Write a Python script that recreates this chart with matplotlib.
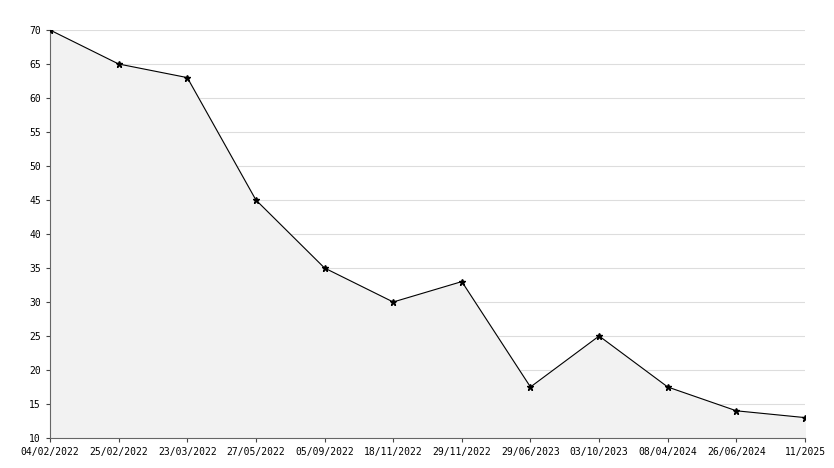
import matplotlib
matplotlib.use("Agg")
import matplotlib.pyplot as plt

labels = ["04/02/2022","25/02/2022","23/03/2022","27/05/2022","05/09/2022","18/11/2022",
          "29/11/2022","29/06/2023","03/10/2023","08/04/2024","26/06/2024","11/2025"]
values = [70,65,63,45,35,30,33,17.5,25,17.5,14,13]

plt.rcParams['font.family'] = ['DejaVu Sans Mono']
fig = plt.figure(figsize=(8.34,4.68), dpi=100)
ax = fig.add_axes([50/834, 30/468, 755/834, 408/468])
x = list(range(len(values)))
ax.fill_between(x, values, 10, color='#f2f2f2', zorder=1)
ax.plot(x, values, color='black', lw=0.8, marker='*', ms=5, zorder=3)
ax.set_xlim(0, len(values)-1)
ax.set_ylim(10, 70)
ax.set_yticks(range(10, 71, 5))
ax.set_xticks(x)
ax.set_xticklabels(labels)
ax.tick_params(labelsize=7, length=3, color='#444444')
ax.yaxis.grid(True, color='#dddddd', lw=0.8, zorder=0)
ax.set_axisbelow(True)
for s in ['top','right']:
    ax.spines[s].set_visible(False)
for s in ['left','bottom']:
    ax.spines[s].set_color('#666666')
fig.savefig('out.png', dpi=100)
